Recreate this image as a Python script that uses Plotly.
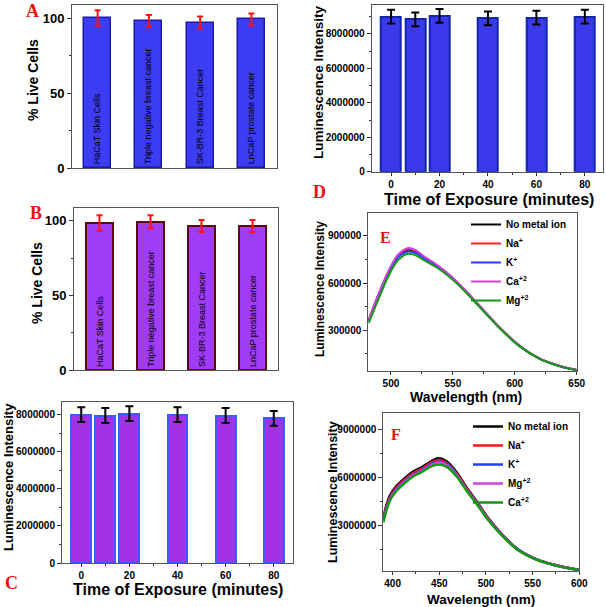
import plotly.graph_objects as go

W, H = 606, 607

# ---------------- data ----------------
cell_lines = ["HaCaT Skin Cells", "Triple negative breast cancer",
              "SK-BR-3 Breast Cancer", "LnCaP prostate cancer"]
live_A = [100.0, 98.0, 97.0, 99.1]
err_A = [5.2, 4.0, 4.0, 4.0]
live_B = [98.5, 99.3, 96.4, 96.4]
err_B = [5.2, 4.3, 4.0, 4.0]

time_min = [0, 10, 20, 40, 60, 80]
lum_C = [8000000, 7950000, 8050000, 8000000, 7950000, 7800000]
err_C = [400000, 400000, 400000, 400000, 400000, 400000]
lum_D = [9000000, 8850000, 9050000, 8900000, 8950000, 9000000]
err_D = [400000, 400000, 400000, 400000, 400000, 400000]

wl_E = [482, 490, 499, 506, 514, 520, 527, 535, 543, 552, 560, 568, 575, 588, 604, 620, 636, 650]
E_none = [365000, 524000, 682000, 771000, 810000, 798000, 760000, 722000, 676000, 614000, 552000, 484000, 424000, 315000, 200000, 120000, 74000, 48000]
E_na = [362000, 526000, 688000, 778000, 816000, 803000, 763000, 724000, 677000, 615000, 553000, 485000, 425000, 316000, 201000, 121000, 75000, 48000]
E_k = [358000, 516000, 676000, 765000, 800000, 790000, 755000, 718000, 673000, 612000, 550000, 482000, 423000, 314000, 199000, 120000, 74000, 48000]
E_ca = [368000, 533000, 692000, 782000, 822000, 808000, 767000, 727000, 680000, 617000, 554000, 486000, 426000, 317000, 202000, 122000, 75000, 49000]
E_mg = [345000, 500000, 660000, 748000, 785000, 775000, 743000, 708000, 665000, 606000, 545000, 478000, 419000, 311000, 198000, 119000, 73000, 47000]
E_names = ["No metal ion", "Na<sup>+</sup>", "K<sup>+</sup>", "Ca<sup>+2</sup>", "Mg<sup>+2</sup>"]

wl_F = [390, 397, 404, 413, 422, 431, 440, 449, 458, 469, 479, 490, 503, 517, 535, 553, 574, 600]
F_none = [3550000, 4850000, 5450000, 5950000, 6350000, 6620000, 6950000, 7180000, 6980000, 6280000, 5380000, 4520000, 3420000, 2470000, 1500000, 940000, 550000, 240000]
F_na = [3450000, 4750000, 5360000, 5860000, 6260000, 6530000, 6860000, 7080000, 6890000, 6200000, 5320000, 4470000, 3390000, 2450000, 1490000, 930000, 550000, 240000]
F_k = [3350000, 4660000, 5270000, 5770000, 6170000, 6440000, 6770000, 6980000, 6800000, 6130000, 5260000, 4420000, 3360000, 2430000, 1480000, 930000, 540000, 240000]
F_mg = [3300000, 4620000, 5230000, 5730000, 6130000, 6400000, 6730000, 6930000, 6760000, 6100000, 5240000, 4400000, 3350000, 2420000, 1470000, 920000, 540000, 230000]
F_ca = [3200000, 4550000, 5150000, 5650000, 6050000, 6320000, 6640000, 6800000, 6650000, 6020000, 5180000, 4350000, 3300000, 2390000, 1450000, 910000, 530000, 230000]
F_names = ["No metal ion", "Na<sup>+</sup>", "K<sup>+</sup>", "Mg<sup>+2</sup>", "Ca<sup>+2</sup>"]

x_title_time = "Time of Exposure (minutes)"
x_title_wl = "Wavelength (nm)"
y_title_live = "% Live Cells"
y_title_lum = "Luminescence Intensity"

# ---------------- style helpers ----------------
SANS = "Liberation Sans"
SERIF = "Liberation Serif"


def px_x(a, b):
    return [a / W, b / W]


def px_y(top, bottom):
    return [1 - bottom / H, 1 - top / H]


fig = go.Figure()

# A
fig.add_trace(go.Bar(
    x=cell_lines, y=live_A, xaxis="x", yaxis="y", width=0.53,
    marker=dict(color="#3c3cf2", line=dict(color="#1a1aa8", width=1.5)),
    error_y=dict(type="data", array=err_A, color="#ff1010", thickness=2, width=3),
    text=cell_lines, textposition="inside", textangle=-90, insidetextanchor="start",
    textfont=dict(family=SANS, size=9, color="black"), showlegend=False))
# B
fig.add_trace(go.Bar(
    x=cell_lines, y=live_B, xaxis="x2", yaxis="y2", width=0.51,
    marker=dict(color="#a03cf5", line=dict(color="#5a0a0a", width=2)),
    error_y=dict(type="data", array=err_B, color="#ff1010", thickness=2, width=3),
    text=cell_lines, textposition="inside", textangle=-90, insidetextanchor="start",
    textfont=dict(family=SANS, size=9, color="black"), showlegend=False))
# C
fig.add_trace(go.Bar(
    x=time_min, y=lum_C, xaxis="x3", yaxis="y3", width=8.3,
    marker=dict(color="#a232e6", line=dict(color="#3a5cff", width=2)),
    error_y=dict(type="data", array=err_C, color="black", thickness=2, width=4),
    showlegend=False))
# D
fig.add_trace(go.Bar(
    x=time_min, y=lum_D, xaxis="x4", yaxis="y4", width=8.3,
    marker=dict(color="#3a3aea", line=dict(color="#1426a8", width=2)),
    error_y=dict(type="data", array=err_D, color="black", thickness=2, width=4),
    showlegend=False))

# E
E_series = [E_none, E_na, E_k, E_ca, E_mg]
E_colors = ["#000000", "#ff2020", "#2040ff", "#cc44dd", "#119911"]
for name, ys, c in zip(E_names, E_series, E_colors):
    fig.add_trace(go.Scatter(x=wl_E, y=ys, mode="lines", name=name, xaxis="x5", yaxis="y5",
                             line=dict(color=c, width=2, shape="spline"), legend="legend"))
# F
F_series = [F_none, F_na, F_k, F_mg, F_ca]
F_colors = ["#000000", "#ff1010", "#2040ff", "#cc44dd", "#119911"]
for name, ys, c in zip(F_names, F_series, F_colors):
    fig.add_trace(go.Scatter(x=wl_F, y=ys, mode="lines", name=name, xaxis="x6", yaxis="y6",
                             line=dict(color=c, width=2.5, shape="spline"), legend="legend2"))

tickf = dict(family=SANS, size=10, color="black", weight="bold")


def yax(domain, anchor, rng, dtick, minor, tsize=10):
    return dict(domain=domain, anchor=anchor, range=rng, dtick=dtick, tick0=0,
                ticks="outside", ticklen=4, tickwidth=1, tickcolor="#333",
                minor=dict(dtick=minor, ticks="outside", ticklen=2, tickcolor="#333"),
                showline=True, linecolor="#555", linewidth=1, mirror=True,
                showgrid=False, zeroline=False, tickformat="d", automargin=False,
                tickfont=dict(tickf, size=tsize))


def xax(domain, anchor, rng, dtick=None, minor=None, show=True):
    d = dict(domain=domain, anchor=anchor, showline=True, linecolor="#555", linewidth=1,
             mirror=True, showgrid=False, zeroline=False, tickfont=tickf, range=rng,
             automargin=False)
    if show:
        d.update(ticks="outside", ticklen=3, tickwidth=1, tickcolor="#333", dtick=dtick, tick0=0,
                 minor=dict(dtick=minor, ticks="outside", ticklen=2, tickcolor="#333"))
    else:
        d.update(showticklabels=False, ticks="")
    return d


layout = dict(
    width=W, height=H, margin=dict(l=0, r=0, t=0, b=0, autoexpand=False),
    paper_bgcolor="white", plot_bgcolor="white", bargap=0,
    xaxis=xax(px_x(72, 277), "y", [-0.5, 3.5], show=False),
    yaxis=yax(px_y(5, 168), "x", [0, 108.7], 50, 25, tsize=13),
    xaxis2=xax(px_x(74, 278), "y2", [-0.5, 3.5], show=False),
    yaxis2=yax(px_y(208, 370), "x2", [0, 108.5], 50, 25, tsize=13),
    xaxis3=xax(px_x(62, 293), "y3", [-8, 88], 20, 10),
    yaxis3=yax(px_y(402, 563), "x3", [0, 8680000], 2000000, 1000000),
    xaxis4=xax(px_x(371.7, 603), "y4", [-8, 87.5], 20, 10),
    yaxis4=yax(px_y(5, 171.7), "x4", [0, 9680000], 2000000, 1000000),
    xaxis5=xax(px_x(368.3, 576.7), "y5", [481.7, 650], 50, 25),
    yaxis5=yax(px_y(213.3, 370.7), "x5", [44000, 1042000], 300000, 150000),
    xaxis6=xax(px_x(383.3, 579.3), "y6", [390, 600], 50, 25),
    yaxis6=yax(px_y(413.3, 570.7), "x6", [200000, 9975000], 3000000, 1500000),
    legend=dict(x=466 / W, y=1 - 210 / H, xanchor="left", yanchor="top", bgcolor="rgba(0,0,0,0)",
                font=dict(family=SANS, size=10, color="black", weight="bold"), tracegroupgap=0),
    legend2=dict(x=468 / W, y=1 - 412 / H, xanchor="left", yanchor="top", bgcolor="rgba(0,0,0,0)",
                 font=dict(family=SANS, size=10, color="black", weight="bold"), tracegroupgap=0),
)
fig.update_layout(**layout)

# axis titles placed precisely (x titles horizontal, y titles rotated)
axis_titles = [
    (x_title_time, 177.5, 589, 16, 0), (x_title_time, 489, 200, 16, 0),
    (x_title_wl, 466, 397, 14, 0), (x_title_wl, 481, 599, 13.5, 0),
    (y_title_live, 33, 80, 14, -90), (y_title_live, 37, 283, 14, -90),
    (y_title_lum, 8, 477, 13, -90), (y_title_lum, 318, 82, 13.5, -90),
    (y_title_lum, 320, 289, 12, -90), (y_title_lum, 333, 492, 12.5, -90),
]
for t, x, y, s, ang in axis_titles:
    fig.add_annotation(text=t, x=x / W, y=1 - y / H, xref="paper", yref="paper",
                       showarrow=False, xanchor="center", yanchor="middle", textangle=ang,
                       font=dict(family=SANS, size=s, color="black", weight="bold"))

letters = [("A", 32, 11, 18), ("B", 36, 213, 18), ("C", 11, 583, 18),
           ("D", 320, 192, 18), ("E", 385, 237, 16), ("F", 396, 434, 16)]
for t, x, y, s in letters:
    fig.add_annotation(text=t, x=x / W, y=1 - y / H, xref="paper", yref="paper",
                       showarrow=False, xanchor="center", yanchor="middle",
                       font=dict(family=SERIF, size=s, color="#ee1111", weight="bold"))

fig.write_html("out.html", config={"displayModeBar": False},
               post_script="document.body.style.margin='0';")
